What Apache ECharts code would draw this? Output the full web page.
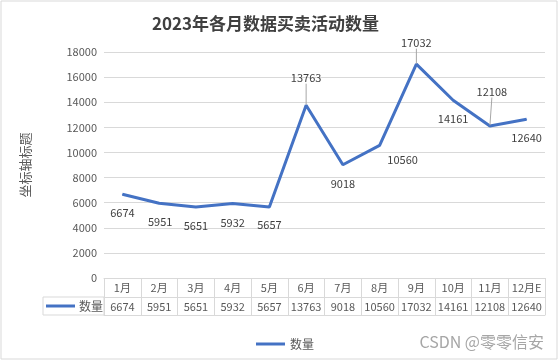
<!DOCTYPE html>
<html><head><meta charset="utf-8">
<script src="https://cdn.jsdelivr.net/npm/echarts@6/dist/echarts.min.js"></script>
<style>html,body{margin:0;padding:0;background:#fff}#c{width:560px;height:362px}</style>
</head><body><div id="c"></div>
<script>
const months = ['1月','2月','3月','4月','5月','6月','7月','8月','9月','10月','11月','12月E'];
const counts = [6674,5951,5651,5932,5657,13763,9018,10560,17032,14161,12108,12640];
const seriesName = '数量';
const yMin = 0, yMax = 18000, yInterval = 2000;

// label styling (offset from point, leader line)
const labelOffsets = [[0,19],[1,19],[0,19],[0,19],[0,18],[0,-27],[0,19],[23,14],[0,-21],[0,19],[2,-34],[0,19]];
const leaderLines = [false,false,false,false,false,true,false,false,true,false,true,false];

const FONT = '"Noto Sans CJK SC", "Noto Sans", sans-serif';
const GRID = '#d9d9d9';
const TXT = '#595959';
const BLUE = '#4472C4';

const chart = echarts.init(document.getElementById('c'), null, {renderer:'canvas'});
const data = counts.map((v,i)=>({
  value: v,
  label: {offset: labelOffsets[i]},
  labelLine: {show: leaderLines[i]}
}));

chart.setOption({
  animation: false,
  title: {
    text: '2023年各月数据买卖活动数量',
    left: 147, top: 10,
    textStyle: {fontFamily: FONT, fontSize: 17, fontWeight: 'bold', color: '#404040'}
  },
  grid: {left: 104, right: 15, top: 52, bottom: 84, containLabel: false},
  legend: {
    data: [{name: seriesName, icon: 'rect'}],
    left: 251, top: 333,
    itemWidth: 29, itemHeight: 3, itemGap: 4,
    textStyle: {fontFamily: FONT, fontSize: 12, color: TXT}
  },
  xAxis: [
    {
      type: 'category', data: months, position: 'bottom', boundaryGap: true,
      axisLine: {show: true, lineStyle: {color: GRID, width: 1}},
      axisTick: {show: true, interval: 0, length: 37, lineStyle: {color: GRID}},
      axisLabel: {interval: 0, margin: 4, fontFamily: FONT, fontSize: 11, color: TXT}
    },
    {
      type: 'category', data: months, position: 'bottom', offset: 19, boundaryGap: true,
      axisLine: {show: true, lineStyle: {color: GRID, width: 1}},
      axisTick: {show: false},
      axisLabel: {interval: 0, margin: 4, fontFamily: FONT, fontSize: 11, color: TXT,
        formatter: (v, i) => String(counts[i])}
    },
    {
      type: 'category', data: months, position: 'bottom', offset: 37, boundaryGap: true,
      axisLine: {show: true, lineStyle: {color: GRID, width: 1}},
      axisTick: {show: false}, axisLabel: {show: false}
    }
  ],
  yAxis: {
    type: 'value', min: yMin, max: yMax, interval: yInterval,
    name: '坐标轴标题', nameLocation: 'middle', nameRotate: 90, nameGap: 72,
    nameTextStyle: {fontFamily: FONT, fontSize: 13, color: TXT},
    axisLine: {show: false}, axisTick: {show: false},
    axisLabel: {margin: 7, fontFamily: FONT, fontSize: 11, color: TXT, formatter: v => String(v)},
    splitLine: {show: true, lineStyle: {color: GRID, width: 1}}
  },
  series: [{
    name: seriesName, type: 'line', data: data,
    symbol: 'circle', symbolSize: 1, showSymbol: true,
    itemStyle: {color: BLUE},
    lineStyle: {color: BLUE, width: 3},
    label: {show: true, position: 'inside', fontFamily: FONT, fontSize: 11, color: '#404040'},
    labelLine: {lineStyle: {color: '#a6a6a6', width: 1}}
  }],
  graphic: [
    {type: 'rect', shape: {x: 1, y: 1, width: 556, height: 358}, style: {fill: 'none', stroke: GRID, lineWidth: 1}, silent: true},
    {type: 'rect', shape: {x: 43, y: 297, width: 61, height: 18}, style: {fill: 'none', stroke: GRID, lineWidth: 1}, silent: true},
    {type: 'line', shape: {x1: 46, y1: 306, x2: 75, y2: 306}, style: {stroke: BLUE, lineWidth: 3}, silent: true},
    {type: 'text', x: 79, y: 306, style: {text: '数量', fontFamily: FONT, fontSize: 12, fill: TXT, textVerticalAlign: 'middle'}, silent: true},
    {type: 'text', x: 544, y: 342, style: {text: 'CSDN @零零信安', fontFamily: FONT, fontSize: 16, fill: '#a6a6a6', textAlign: 'right', textVerticalAlign: 'middle'}, silent: true}
  ]
});
</script></body></html>
